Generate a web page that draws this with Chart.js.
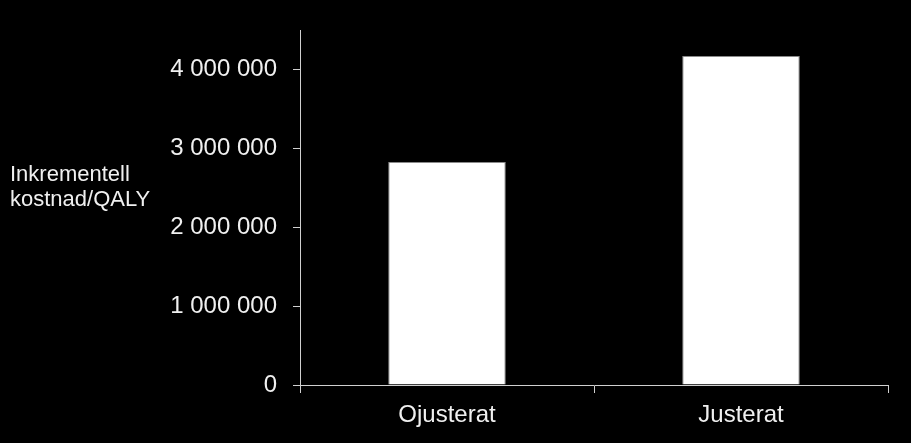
<!DOCTYPE html>
<html>
<head>
<meta charset="utf-8">
<script src="https://cdn.jsdelivr.net/npm/chart.js@4/dist/chart.umd.min.js"></script>
<style>
  html, body { margin: 0; padding: 0; background: #000; }
  #wrap { width: 911px; height: 443px; position: relative; }
</style>
</head>
<body>
<div id="wrap"><canvas id="costChart"></canvas></div>
<script>
// values
const categories = ['Ojusterat', 'Justerat'];
const costPerQaly = [2830000, 4175000];
const yTicks = [0, 1000000, 2000000, 3000000, 4000000];
const yMax = 4500000;
const yLabelLines = ['Inkrementell', 'kostnad/QALY'];

const axisColor = '#d0d0d0';
const textColor = '#f0f0f0';
const fontFamily = '"Liberation Sans", Arial, sans-serif';

function spaced(v) {
  return String(v).replace(/\B(?=(\d{3})+(?!\d))/g, ' ');
}

// black page + horizontal y title on the left
const backdrop = {
  id: 'backdrop',
  beforeDraw(chart) {
    const c = chart.ctx;
    c.save();
    c.fillStyle = '#000';
    c.fillRect(0, 0, chart.width, chart.height);
    c.restore();
  },
  afterDraw(chart) {
    const c = chart.ctx;
    c.save();
    c.fillStyle = textColor;
    c.font = '22px ' + fontFamily;
    c.textAlign = 'left';
    c.textBaseline = 'alphabetic';
    yLabelLines.forEach((line, i) => c.fillText(line, 10, 181 + i * 25));
    c.restore();
  }
};

const ctx = document.getElementById('costChart').getContext('2d');
new Chart(ctx, {
  type: 'bar',
  data: {
    labels: categories,
    datasets: [{
      data: costPerQaly,
      backgroundColor: '#ffffff',
      borderColor: '#8a8a8a',
      borderWidth: 1,
      barPercentage: 0.4,
      categoryPercentage: 1.0
    }]
  },
  options: {
    responsive: true,
    maintainAspectRatio: false,
    animation: false,
    layout: { padding: { top: 26, right: 23, left: 0, bottom: 0 } },
    plugins: {
      legend: { display: false },
      tooltip: { enabled: false }
    },
    scales: {
      x: {
        grid: {
          offset: true,
          drawOnChartArea: false,
          drawTicks: true,
          tickLength: 8,
          color: axisColor
        },
        border: { display: true, color: axisColor, width: 1 },
        ticks: {
          color: textColor,
          padding: 8,
          font: { family: fontFamily, size: 24 }
        },
        afterFit(scale) { scale.height = 58; }
      },
      y: {
        min: 0,
        max: yMax,
        grid: {
          drawOnChartArea: false,
          drawTicks: true,
          tickLength: 7,
          color: axisColor
        },
        border: { display: true, color: axisColor, width: 1 },
        ticks: {
          color: textColor,
          padding: 16,
          font: { family: fontFamily, size: 24 },
          callback: v => spaced(v)
        },
        afterBuildTicks(scale) {
          scale.ticks = yTicks.map(v => ({ value: v }));
        },
        afterFit(scale) { scale.width = 300; }
      }
    }
  },
  plugins: [backdrop]
});
</script>
</body>
</html>
